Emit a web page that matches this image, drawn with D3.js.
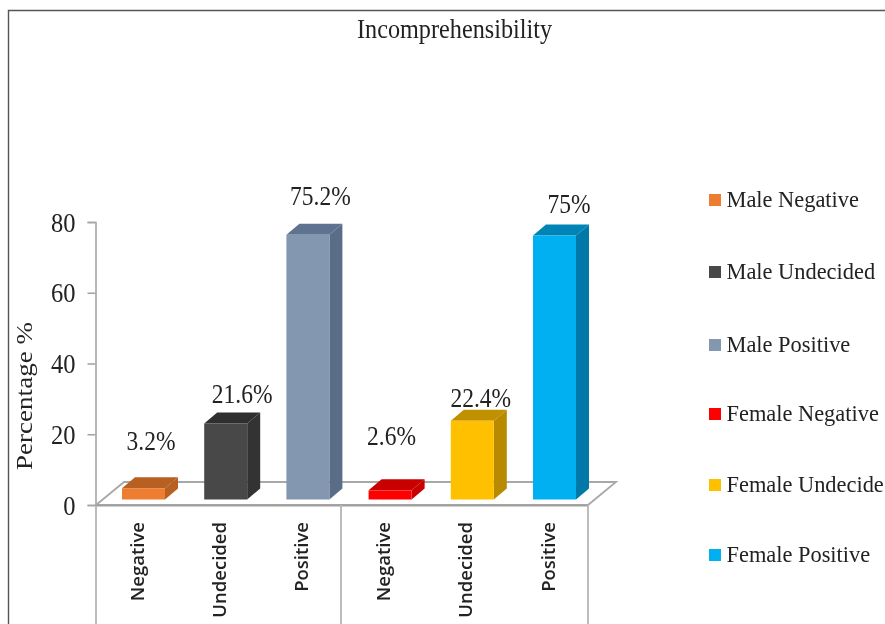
<!DOCTYPE html>
<html><head><meta charset="utf-8">
<script src="https://cdn.jsdelivr.net/npm/d3@7"></script>
<style>html,body{margin:0;padding:0;background:#fff;overflow:hidden}svg{display:block;filter:blur(0.55px)}</style>
</head><body><svg id="c" width="885" height="624"></svg>
<script>
const categories = ["Negative","Undecided","Positive","Negative","Undecided","Positive"];
const seriesNames = ["Male Negative","Male Undecided","Male Positive","Female Negative","Female Undecide","Female Positive"];
const values = [3.2,21.6,75.2,2.6,22.4,75];
const valueLabels = ["3.2%","21.6%","75.2%","2.6%","22.4%","75%"];
const yTicks = [0,20,40,60,80];
const frontColors = ["#ED7D31","#484848","#8497B0","#FF0000","#FFC000","#00B0F0"];
const sideColors  = ["#B85F22","#333333","#5A6D88","#C80000","#B88A00","#0079A8"];
const topColors   = ["#B85F22","#2F2F2F","#5F7391","#C80000","#C09000","#0083B5"];

// layout (not data)
const floorFront = 505, depthX = 13, depthY = 11, floorDX = 28, floorDY = 23;
const barBase = 499.5;
const labelDX = [-14,-5,-9,-20,-13,-7], labelDY = [-38,-20,-30,-45,-14,-23];
const legendRows = [200,272,345,414,485,555];
const stretch = 1.13;

const svg = d3.select("#c");
const serif = "'Liberation Serif','Times New Roman',serif";
const ink = "#222";

// frame
svg.append("path").attr("d","M8.5,624V10.5H885").attr("fill","none").attr("stroke","#555").attr("stroke-width",1.4);

svg.append("text").attr("transform",`translate(454.5,38) scale(1,${stretch})`).attr("text-anchor","middle")
  .attr("font-family",serif).attr("font-size",24).attr("fill",ink)
  .attr("textLength",195).attr("lengthAdjust","spacingAndGlyphs").text("Incomprehensibility");

const y = d3.scaleLinear().domain([0,80]).range([floorFront,222]);
const barY = d3.scaleLinear().domain([0,80]).range([barBase,barBase-281.6]);
const x = d3.scaleBand().domain(d3.range(6)).range([102.4,595.6]).paddingInner(0.477).paddingOuter(0.2385);

// floor
const floorL = 96, floorR = 588;
svg.append("path")
  .attr("d",`M${floorL},${floorFront}L${floorL+floorDX},${floorFront-floorDY}H${floorR+floorDX}L${floorR},${floorFront}Z`)
  .attr("fill","#fff").attr("stroke","#a8a8a8").attr("stroke-width",1.8);
svg.append("line").attr("x1",floorL).attr("x2",floorR).attr("y1",floorFront+0.5).attr("y2",floorFront+0.5)
  .attr("stroke","#a0a0a0").attr("stroke-width",2.2);
// group dividers
[floorL,341,floorR].forEach(px=>{
  svg.append("line").attr("x1",px).attr("x2",px).attr("y1",floorFront).attr("y2",624)
    .attr("stroke","#b5b5b5").attr("stroke-width",1.8);
});

// y axis
const axis = svg.append("g").attr("transform","translate(95.5,0)")
  .call(d3.axisLeft(y).tickValues(yTicks).tickSize(8).tickPadding(12));
axis.selectAll("path,line").attr("stroke","#a6a6a6").attr("stroke-width",1.6);
axis.selectAll("text").attr("font-family",serif).attr("font-size",24.5).attr("fill",ink)
  .attr("dy",null).attr("y",8).attr("transform",`scale(1,${stretch})`);

svg.append("text").attr("transform","translate(32,396) rotate(-90)").attr("text-anchor","middle")
  .attr("font-family",serif).attr("font-size",24).attr("fill",ink)
  .attr("textLength",148).attr("lengthAdjust","spacingAndGlyphs").text("Percentage %");

// bars
const bars = svg.selectAll("g.bar").data(values).join("g").attr("class","bar");
bars.append("path").attr("fill",(d,i)=>topColors[i]).attr("d",(d,i)=>{
  const l=x(i), r=l+x.bandwidth(), t=barY(d);
  return `M${l},${t}L${l+depthX},${t-depthY}H${r+depthX}L${r},${t}Z`;
});
bars.append("path").attr("fill",(d,i)=>sideColors[i]).attr("d",(d,i)=>{
  const r=x(i)+x.bandwidth(), t=barY(d);
  return `M${r},${t}L${r+depthX},${t-depthY}V${barBase-depthY}L${r},${barBase}Z`;
});
bars.append("rect").attr("fill",(d,i)=>frontColors[i])
  .attr("x",(d,i)=>x(i)).attr("width",x.bandwidth())
  .attr("y",d=>barY(d)).attr("height",d=>barBase-barY(d));

// value labels
svg.selectAll("text.v").data(values).join("text").attr("class","v")
  .attr("transform",(d,i)=>`translate(${x(i)+x.bandwidth()+labelDX[i]},${barY(d)+labelDY[i]}) scale(1,${stretch})`)
  .attr("text-anchor","middle").attr("font-family",serif).attr("font-size",23.5).attr("fill",ink)
  .text((d,i)=>valueLabels[i]);

// category labels
svg.selectAll("text.cat").data(categories).join("text").attr("class","cat")
  .attr("transform",(d,i)=>`translate(${x(i)+x.bandwidth()/2-6.5},522) rotate(-90)`)
  .attr("text-anchor","end").attr("dy","0.36em")
  .attr("font-family","'Open Sans',sans-serif").attr("font-weight",600).attr("font-size",18.5).attr("fill","#222")
  .text(d=>d);

// legend
const lg = svg.selectAll("g.lg").data(seriesNames).join("g").attr("class","lg")
  .attr("transform",(d,i)=>`translate(709,${legendRows[i]})`);
lg.append("rect").attr("x",0).attr("y",-6).attr("width",12).attr("height",12).attr("fill",(d,i)=>frontColors[i]);
lg.append("text").attr("x",17.5).attr("y",7).attr("font-family",serif).attr("font-size",22.4).attr("fill",ink).text(d=>d);
</script></body></html>
